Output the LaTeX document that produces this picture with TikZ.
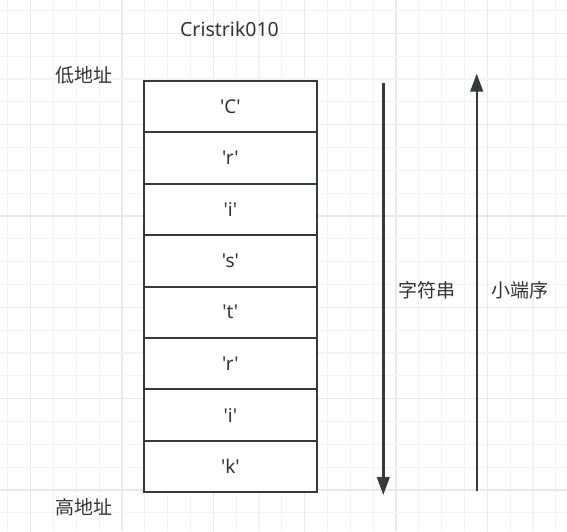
\documentclass[tikz,border=0pt]{standalone}
\usepackage{fontspec}
\setmainfont{Noto Sans CJK SC}[Ligatures=TeXOff]
\newfontfamily\latinfont{Noto Sans}[Ligatures=TeXOff]
\usetikzlibrary{arrows.meta}
\definecolor{ink}{HTML}{333333}
\definecolor{edge}{HTML}{36393D}
\definecolor{gminor}{HTML}{F3F3F3}
\definecolor{gmajor}{HTML}{E8E8E8}
\begin{document}
\begin{tikzpicture}[x=1pt,y=-1pt,
  cell/.style={draw=edge, line width=2pt, fill=white, minimum width=173.3pt, minimum height=51.4pt, inner sep=0pt, anchor=north west, text=ink, font=\latinfont\fontsize{19}{22}\selectfont},
  lbl/.style={text=ink, font=\fontsize{19}{22}\selectfont, inner sep=0pt},
  arr/.style={draw=edge, line width=2.4pt, -{Triangle[length=18pt,width=12.5pt]}}]
\useasboundingbox (0,0) rectangle (567,531);
\fill[white] (0,0) rectangle (567,531);
\foreach \n in {0,...,24} {
  \pgfmathtruncatemacro\m{mod(\n+3,4)}
  \ifnum\m=0 \draw[gmajor, line width=1.4pt] ({7.87+\n*22.83},0) -- ({7.87+\n*22.83},531);
  \else \draw[gminor, line width=1.2pt] ({7.87+\n*22.83},0) -- ({7.87+\n*22.83},531); \fi
}
\foreach \n in {0,...,22} {
  \pgfmathtruncatemacro\m{mod(\n+3,4)}
  \ifnum\m=0 \draw[gmajor, line width=1.4pt] (0,{10.5+\n*22.83}) -- (567,{10.5+\n*22.83});
  \else \draw[gminor, line width=1.2pt] (0,{10.5+\n*22.83}) -- (567,{10.5+\n*22.83}); \fi
}
\foreach \t [count=\i from 0] in {C,r,i,s,t,r,i,k} {
  \node[cell] (r\i) at (142.7,{80+\i*51.4}) {'\t'};
}
\node[lbl, font=\latinfont\fontsize{19.5}{22}\selectfont] (title) at (229.5,29) {Cristrik010};
\node[lbl] (low) at (84,75) {低地址};
\node[lbl] (high) at (84,507) {高地址};
\node[lbl] (str) at (427,290) {字符串};
\node[lbl] (le) at (520,290) {小端序};
\coordinate (d1) at (383.3,82.5);
\coordinate (d2) at (383.3,495);
\coordinate (u1) at (476.7,491);
\coordinate (u2) at (476.7,73.5);
\draw[arr] (d1) -- (d2);
\draw[arr] (u1) -- (u2);
\end{tikzpicture}
\end{document}
